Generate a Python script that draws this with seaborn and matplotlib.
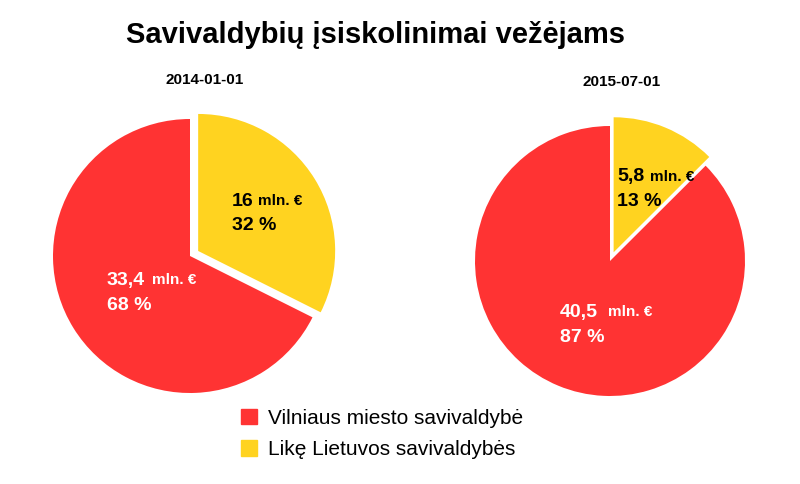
import matplotlib
matplotlib.use("Agg")
import matplotlib.pyplot as plt
import seaborn as sns
from matplotlib.patches import Patch

sns.set_theme(style="white")
plt.rcParams["font.family"] = "Liberation Sans"
plt.rcParams["text.color"] = "black"

title = "Savivaldybių įsiskolinimai vežėjams"
dates = ["2014-01-01", "2015-07-01"]
categories = ["Likę Lietuvos savivaldybės", "Vilniaus miesto savivaldybė"]
values_2014 = [16.0, 33.4]
values_2015 = [5.8, 40.5]
amount_labels_2014 = ["16", "33,4"]
amount_labels_2015 = ["5,8", "40,5"]
pct_2014 = ["32 %", "68 %"]
pct_2015 = ["13 %", "87 %"]
colors = ["#FFD320", "#FF3333"]

fig = plt.figure(figsize=(8, 4.84), dpi=100)
W, H = 800, 484

def fx(x): return x / W
def fy(y): return 1 - y / H

def pie(cx, cy, r, vals):
    ax = fig.add_axes([fx(cx - r), fy(cy + r), 2 * r / W, 2 * r / H])
    ax.pie(vals, colors=colors, startangle=90, counterclock=False,
           explode=[0.07, 0], wedgeprops=dict(linewidth=0))
    ax.set_xlim(-1, 1); ax.set_ylim(-1, 1)
    ax.set_aspect("auto")
    ax.axis("off")

pie(190, 256, 137, values_2014)
pie(610, 261, 135, values_2015)

fig.text(fx(375), fy(35), title, ha="center", va="center", fontsize=21, fontweight="bold", color="black")
fig.text(fx(205), fy(80), dates[0], ha="center", va="center", fontsize=11, fontweight="bold", color="black")
fig.text(fx(622), fy(82), dates[1], ha="center", va="center", fontsize=11, fontweight="bold", color="black")

def label(x, y, amt, pct, col, gap):
    fig.text(fx(x), fy(y), amt, ha="left", va="center", fontsize=14, fontweight="bold", color=col)
    fig.text(fx(x + gap), fy(y), "mln. €", ha="left", va="center", fontsize=11, fontweight="bold", color=col)
    fig.text(fx(x), fy(y + 25), pct, ha="left", va="center", fontsize=14, fontweight="bold", color=col)

label(232, 201, amount_labels_2014[0], pct_2014[0], "black", 26)
label(107, 280, amount_labels_2014[1], pct_2014[1], "white", 45)
label(617, 177, amount_labels_2015[0], pct_2015[0], "black", 33)
label(560, 312, amount_labels_2015[1], pct_2015[1], "white", 48)

handles = [Patch(color=colors[1]), Patch(color=colors[0])]
fig.legend(handles, [categories[1], categories[0]], loc="center left",
           bbox_to_anchor=(fx(222), fy(434)), frameon=False, fontsize=15,
           handlelength=0.8, handleheight=0.8, handletextpad=0.5, labelspacing=0.6,
           labelcolor="black")

fig.savefig("out.png", dpi=100, facecolor="white")
